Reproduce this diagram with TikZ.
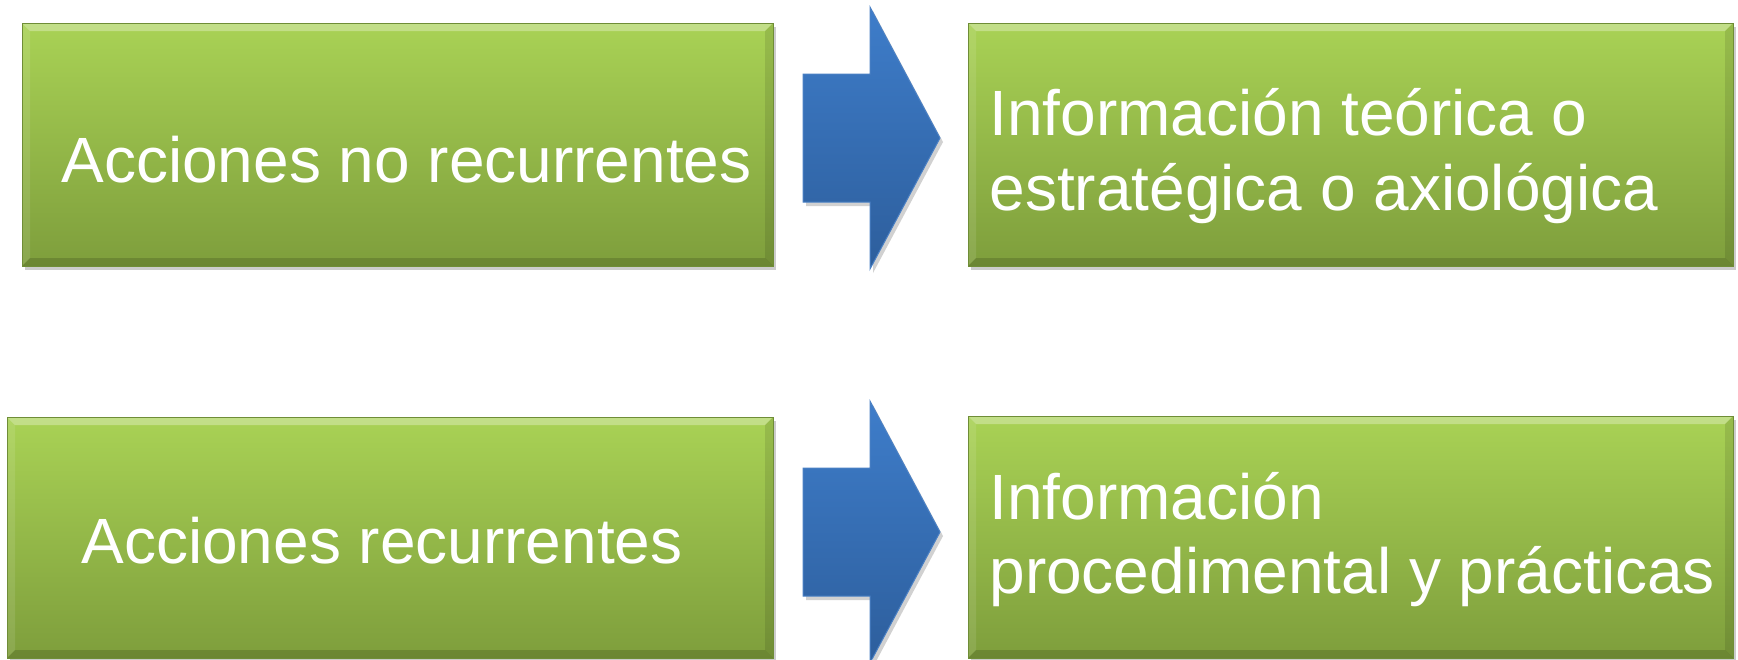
\documentclass[tikz,border=0pt]{standalone}
\usepackage{fontspec}
\setmainfont{Liberation Sans}
\usetikzlibrary{shadows}
\definecolor{gtop}{HTML}{A9D255}
\definecolor{gbot}{HTML}{7E9E3C}
\definecolor{gborder}{HTML}{6F8D37}
\definecolor{atop}{HTML}{3E7DCA}
\definecolor{abot}{HTML}{2D5E9C}
\definecolor{aborder}{HTML}{4A80C4}
\tikzset{
  gbox/.style={draw=gborder, line width=0.5pt, top color=gtop, bottom color=gbot,
    inner sep=0pt, rectangle,
    drop shadow={shadow xshift=1.5pt, shadow yshift=-2pt, opacity=0.2, fill=black},
    path picture={
      \fill[white,opacity=0.3] (path picture bounding box.north west) -- (path picture bounding box.north east)
        -- ([xshift=-4pt,yshift=-4pt]path picture bounding box.north east)
        -- ([xshift=4pt,yshift=-4pt]path picture bounding box.north west) -- cycle;
      \fill[white,opacity=0.1] (path picture bounding box.north west) -- ([xshift=4pt,yshift=-4pt]path picture bounding box.north west)
        -- ([xshift=4pt,yshift=4pt]path picture bounding box.south west)
        -- (path picture bounding box.south west) -- cycle;
      \fill[black,opacity=0.15] (path picture bounding box.south west) -- ([xshift=4pt,yshift=4pt]path picture bounding box.south west)
        -- ([xshift=-4pt,yshift=4pt]path picture bounding box.south east)
        -- (path picture bounding box.south east) -- cycle;
      \fill[black,opacity=0.1] (path picture bounding box.north east) -- ([xshift=-4pt,yshift=-4pt]path picture bounding box.north east)
        -- ([xshift=-4pt,yshift=4pt]path picture bounding box.south east)
        -- (path picture bounding box.south east) -- cycle;
    }},
  lbl/.style={text=white, inner sep=0pt, anchor=base west, font=\fontsize{32pt}{37.5pt}\selectfont},
  barrow/.style={top color=atop, bottom color=abot, draw=aborder, line width=0.5pt,
    drop shadow={shadow xshift=1.5pt, shadow yshift=-2pt, opacity=0.18, fill=black}}
}
\begin{document}
\begin{tikzpicture}[x=0.5pt,y=-0.5pt]
\useasboundingbox (0,0) rectangle (1738,659);
% boxes
\node[gbox, minimum width=375.5pt, minimum height=121.5pt] (b1) at (397.5,144.5) {};
\node[gbox, minimum width=382.5pt, minimum height=121.5pt] (b2) at (1350.5,144.5) {};
\node[gbox, minimum width=383pt, minimum height=120.5pt] (b3) at (390,537.5) {};
\node[gbox, minimum width=382.5pt, minimum height=121pt] (b4) at (1350.5,537) {};
% texts
\node[lbl] (t1) at (61,182) {Acciones no recurrentes};
\node[lbl] (t2a) at (989,135) {Información teórica o};
\node[lbl] (t2b) at (989,210) {estratégica o axiológica};
\node[lbl] (t3) at (81,563) {Acciones recurrentes};
\node[lbl] (t4a) at (989,519) {Información};
\node[lbl] (t4b) at (989,593) {procedimental y prácticas};
% arrows
\coordinate (a1) at (803,74);
\coordinate (a2) at (803,468);
\shade[barrow] (a1) -- ++(67,0) -- ++(0,-67) -- ++(70,131) -- ++(-70,131) -- ++(0,-67) -- ++(-67,0) -- cycle;
\shade[barrow] (a2) -- ++(67,0) -- ++(0,-67) -- ++(70,131) -- ++(-70,131) -- ++(0,-67) -- ++(-67,0) -- cycle;
\end{tikzpicture}
\end{document}
